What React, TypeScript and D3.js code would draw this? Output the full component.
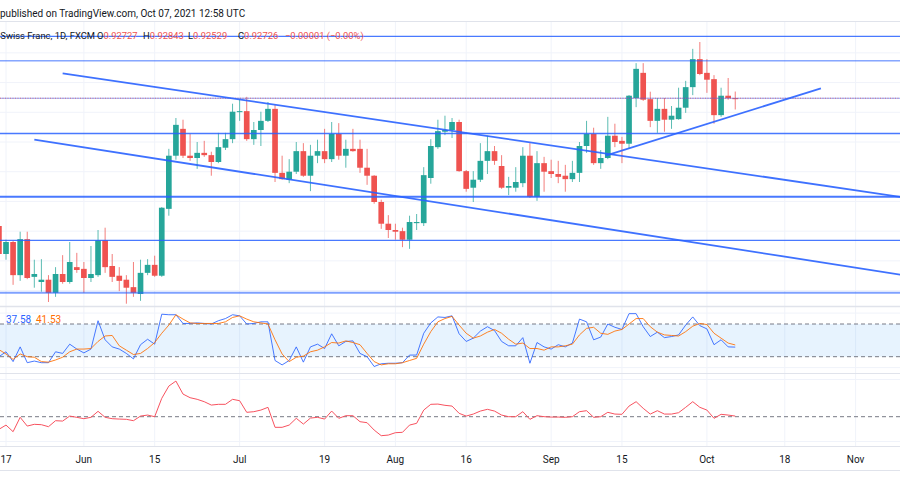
import React from 'react'
import * as d3 from 'd3'

// trading-day index: 0 = Mon May 17 2021; the first (cut) candle is Fri May 14
const firstDay = -1

const open = [
  0.9049, 0.9, 0.9021, 0.8963, 0.9026, 0.896, 0.8951, 0.8955, 0.8932, 0.8965,
  0.8951, 0.8977, 0.8974, 0.8958, 0.8963, 0.9024, 0.8979, 0.8962, 0.8955, 0.8942,
  0.893, 0.8967, 0.8981, 0.8962, 0.9079, 0.9172, 0.9219, 0.9172, 0.9168, 0.9177,
  0.9173, 0.9161, 0.9186, 0.9201, 0.9249, 0.925, 0.9201, 0.9217, 0.9233, 0.9254,
  0.9142, 0.913, 0.9144, 0.918, 0.9137, 0.9172, 0.918, 0.9166, 0.921, 0.9172,
  0.9184, 0.9184, 0.9151, 0.9137, 0.9091, 0.9053, 0.9042, 0.904, 0.9025, 0.9054,
  0.9054, 0.9133, 0.9187, 0.9214, 0.9217, 0.9231, 0.9145, 0.9116, 0.913, 0.9163,
  0.918, 0.9154, 0.9116, 0.9116, 0.9124, 0.9172, 0.91, 0.9159, 0.9145, 0.914,
  0.9137, 0.9131, 0.9142, 0.9189, 0.921, 0.9159, 0.9168, 0.9207, 0.9198, 0.9193,
  0.9273, 0.9317, 0.9271, 0.9233, 0.9254, 0.9235, 0.9236, 0.9256, 0.9292, 0.9341,
  0.9317, 0.9306, 0.9243, 0.9277, 0.92727,
]
const high = [
  0.9053, 0.9025, 0.9023, 0.9039, 0.9039, 0.899, 0.8991, 0.8963, 0.8977, 0.8998,
  0.9021, 0.9002, 0.8986, 0.9014, 0.9042, 0.9046, 0.9, 0.8977, 0.8963, 0.8986,
  0.899, 0.8991, 0.8997, 0.9082, 0.9184, 0.9238, 0.9235, 0.921, 0.9196, 0.9198,
  0.9179, 0.9212, 0.9212, 0.9263, 0.9271, 0.9275, 0.9231, 0.9249, 0.9266, 0.9261,
  0.9172, 0.9166, 0.9196, 0.9194, 0.9191, 0.92, 0.9219, 0.9231, 0.9229, 0.92,
  0.9219, 0.92, 0.9184, 0.9138, 0.9095, 0.9068, 0.9053, 0.9046, 0.9067, 0.907,
  0.9152, 0.9201, 0.9235, 0.9242, 0.9238, 0.9235, 0.9147, 0.9145, 0.9194, 0.9207,
  0.9189, 0.9173, 0.9135, 0.9152, 0.9187, 0.9194, 0.918, 0.917, 0.9165, 0.9163,
  0.9156, 0.9163, 0.9196, 0.9233, 0.9221, 0.9182, 0.924, 0.9228, 0.9205, 0.9278,
  0.9334, 0.9334, 0.9284, 0.9273, 0.9273, 0.9259, 0.9291, 0.9303, 0.9359, 0.9371,
  0.9341, 0.9313, 0.9291, 0.9308, 0.92843,
]
const low = [
  0.8997, 0.899, 0.8946, 0.8953, 0.8956, 0.8941, 0.8934, 0.8916, 0.8925, 0.8948,
  0.8948, 0.8967, 0.8932, 0.8951, 0.896, 0.8967, 0.8951, 0.8935, 0.8913, 0.8925,
  0.8918, 0.8963, 0.896, 0.896, 0.9067, 0.9165, 0.9168, 0.9163, 0.9149, 0.917,
  0.9137, 0.9159, 0.9182, 0.9194, 0.9233, 0.9198, 0.9191, 0.9189, 0.9231, 0.9126,
  0.913, 0.9124, 0.914, 0.9135, 0.911, 0.9159, 0.9159, 0.9161, 0.9165, 0.9151,
  0.9179, 0.9142, 0.9121, 0.9088, 0.9044, 0.9028, 0.9025, 0.9012, 0.9009, 0.9042,
  0.9049, 0.9123, 0.9184, 0.9208, 0.9203, 0.9144, 0.9109, 0.9091, 0.9126, 0.914,
  0.9156, 0.9114, 0.9103, 0.9109, 0.9117, 0.9098, 0.9093, 0.9109, 0.9133, 0.9124,
  0.9109, 0.9126, 0.9126, 0.9177, 0.9156, 0.9149, 0.9166, 0.9187, 0.9159, 0.9184,
  0.9257, 0.9268, 0.9222, 0.9212, 0.9214, 0.9219, 0.9235, 0.9247, 0.9278, 0.9313,
  0.9282, 0.9228, 0.924, 0.927, 0.92529,
]
const close = [
  0.9, 0.9021, 0.8963, 0.9026, 0.8958, 0.8965, 0.8955, 0.8932, 0.8965, 0.8951,
  0.8986, 0.8972, 0.8958, 0.8965, 0.9024, 0.8977, 0.896, 0.8953, 0.8941, 0.8932,
  0.8967, 0.8981, 0.8962, 0.9081, 0.9172, 0.9226, 0.9172, 0.9168, 0.9177, 0.9173,
  0.9161, 0.9187, 0.9201, 0.9249, 0.925, 0.9201, 0.9217, 0.9233, 0.9254, 0.9142,
  0.9131, 0.9144, 0.918, 0.9137, 0.9172, 0.918, 0.9166, 0.921, 0.9172, 0.9184,
  0.918, 0.9151, 0.9137, 0.9091, 0.9053, 0.9042, 0.9039, 0.9025, 0.9056, 0.9056,
  0.9138, 0.9189, 0.9215, 0.9217, 0.9231, 0.9145, 0.9114, 0.913, 0.9163, 0.918,
  0.9163, 0.9116, 0.9119, 0.9126, 0.9172, 0.91, 0.9159, 0.9144, 0.914, 0.9135,
  0.9131, 0.9142, 0.9189, 0.921, 0.9159, 0.9168, 0.9207, 0.9196, 0.9193, 0.9277,
  0.9324, 0.927, 0.9233, 0.9254, 0.9235, 0.9242, 0.9256, 0.9292, 0.9341, 0.9315,
  0.9305, 0.9243, 0.9277, 0.92727, 0.92726,
]

// stochastic %K / %D
const stochK = [
  20, 29, 11, 38, 9, 12, 9, 9, 29, 26,
  43, 34, 27, 34, 86, 51, 38, 34, 26, 16,
  42, 52, 43, 98, 97, 97, 81, 81, 82, 81,
  80, 86, 90, 97, 95, 80, 81, 84, 84, 13,
  5, 13, 38, 10, 38, 43, 35, 62, 40, 48,
  49, 26, 20, 2, 7, 8, 8, 9, 23, 23,
  63, 82, 93, 92, 95, 62, 48, 54, 67, 75,
  68, 48, 40, 40, 55, 8, 46, 38, 34, 42,
  38, 45, 89, 84, 51, 56, 80, 74, 70, 99,
  99, 75, 57, 65, 55, 57, 60, 78, 93, 77,
  71, 42, 51, 38, 37.58,
]
const stochD = [
  33, 25, 15, 25, 20, 19, 11, 10, 14, 19,
  29, 34, 34, 35, 48, 58, 59, 40, 32, 24,
  26, 35, 46, 63, 78, 97, 89, 82, 81, 81,
  81, 81, 84, 92, 95, 89, 84, 82, 80, 51,
  25, 11, 19, 21, 29, 32, 38, 46, 45, 49,
  46, 42, 26, 11, 5, 7, 7, 9, 13, 17,
  43, 66, 84, 90, 94, 78, 63, 54, 58, 65,
  70, 63, 52, 43, 45, 35, 35, 32, 38, 38,
  40, 43, 60, 72, 74, 63, 61, 67, 70, 80,
  90, 90, 75, 65, 60, 59, 58, 66, 76, 81,
  79, 63, 54, 45, 41.53,
]
// lower oscillator (red line)
const osc = [
  39.9, 43.3, 38.0, 49.5, 42.5, 43.9, 43.6, 42.0, 46.8, 46.5,
  50.5, 49.5, 48.4, 49.5, 54.3, 49.5, 48.4, 48.1, 47.9, 46.8,
  50.5, 51.3, 50.0, 64.7, 74.5, 78.5, 68.1, 65.2, 63.9, 62.0,
  59.3, 59.9, 59.9, 63.9, 62.8, 53.5, 54.0, 55.3, 57.5, 41.5,
  41.5, 43.3, 48.7, 44.1, 48.9, 49.5, 48.1, 54.5, 48.7, 50.8,
  50.8, 46.0, 45.2, 39.3, 34.8, 35.3, 37.2, 37.5, 43.3, 44.7,
  55.3, 59.9, 60.1, 59.1, 58.5, 52.7, 50.5, 52.1, 54.5, 55.9,
  54.5, 51.3, 50.0, 50.0, 54.0, 47.9, 50.8, 50.0, 49.7, 49.7,
  49.5, 50.0, 54.0, 54.8, 49.5, 50.0, 53.5, 52.1, 51.9, 58.5,
  62.0, 56.7, 52.1, 54.8, 52.1, 52.1, 53.2, 57.5, 62.0, 57.5,
  55.3, 48.7, 51.9, 51.3, 50.5,
]

const tickDays = [0, 11, 21, 33, 45, 55, 65, 77, 87, 99, 110, 120]
const tickLabels = ['17', 'Jun', '15', 'Jul', '19', 'Aug', '16', 'Sep', '15', 'Oct', '18', 'Nov']
const gridPrices = [0.9352, 0.93, 0.9248, 0.9196, 0.9144, 0.9092, 0.904, 0.8988, 0.8936]
const levelPrices = [0.9381, 0.9338, 0.9211, 0.91, 0.9024, 0.8932]
// [day, price, day, price]
const trendLines = [
  [8, 0.9316, 126.3, 0.91],
  [4, 0.92, 126.3, 0.8964],
  [84.7, 0.9172, 115.1, 0.929],
]
const stochBands = [80, 20]
const oscMid = 50

const levelWidths = [1.2, 1, 1.5, 2, 1.2, 2]
const font = 'Roboto, "Liberation Sans", sans-serif'
const up = '#26a69a'
const down = '#ef5350'
const blue = '#2962ff'

export default function App() {
  const W = 900
  const H = 500
  const x = d3.scaleLinear().domain([0, 120]).range([6, 855.6])
  const y = d3.scaleLinear().domain([0.9273, 0.9098]).range([98, 198])
  const sy = d3.scaleLinear().domain([0, 100]).range([367.6, 313.1])
  const oy = d3.scaleLinear().domain([0, 100]).range([479.2, 354.2])
  const days = open.map((_, k) => firstDay + k)
  const bw = (x(1) - x(0)) * 0.8
  const last = open.length - 1

  const lineOf = (scale: d3.ScaleLinear<number, number>) =>
    d3.line<number>().x((_, k) => x(days[k])).y((v) => scale(v))

  const chg = close[last] - close[last - 1]
  const minus = (s: string) => s.replace('-', '\u2212')
  const chgText = `${minus(chg.toFixed(5))} (${minus(((chg / close[last - 1]) * 100).toFixed(2))}%)`

  const lastPriceY = y(close[last])

  return (
    <svg width={W} height={H} style={{ position: 'fixed', left: 0, top: 0, background: '#fff' }} fontFamily={font}>
      <defs>
        <clipPath id="main"><rect x={0} y={22} width={W} height={284.5} /></clipPath>
        <clipPath id="stoch"><rect x={0} y={307} width={W} height={66} /></clipPath>
        <clipPath id="osc"><rect x={0} y={374} width={W} height={72.5} /></clipPath>
      </defs>
      <rect width={W} height={H} fill="#fff" />

      {/* vertical grid */}
      {tickDays.map((d) => (
        <line key={d} x1={x(d)} x2={x(d)} y1={22} y2={446.5} stroke="#f0f3fa" />
      ))}
      {/* horizontal grid */}
      {gridPrices.map((p) => (
        <line key={p} x1={0} x2={W} y1={y(p)} y2={y(p)} stroke="#f0f3fa" />
      ))}
      {[0, 100].map((v) => (
        <line key={v} x1={0} x2={W} y1={sy(v)} y2={sy(v)} stroke="#f0f3fa" />
      ))}
      {[379.5, 441.5].map((v) => (
        <line key={v} x1={0} x2={W} y1={v} y2={v} stroke="#f0f3fa" />
      ))}

      {/* pane borders */}
      {[21.5, 306.5, 373.5, 446.5, 470.5].map((v) => (
        <line key={v} x1={0} x2={W} y1={v} y2={v} stroke="#e0e3eb" strokeWidth={v === 306.5 ? 1.5 : 1} />
      ))}

      {/* candles */}
      <g clipPath="url(#main)">
        {days.map((d, k) => {
          const col = close[k] >= open[k] ? up : down
          const cx = x(d)
          const top = y(Math.max(open[k], close[k]))
          const bot = y(Math.min(open[k], close[k]))
          return (
            <g key={d}>
              <line x1={cx} x2={cx} y1={y(high[k])} y2={y(low[k])} stroke={col} strokeOpacity={0.75} />
              <rect x={cx - bw / 2} y={top} width={bw} height={Math.max(1, bot - top)} fill={col} />
            </g>
          )
        })}

        {/* drawings */}
        {levelPrices.map((p, k) => (
          <line key={p} x1={0} x2={W} y1={y(p)} y2={y(p)} stroke={blue}
            strokeWidth={levelWidths[k]} strokeOpacity={k === 5 ? 0.6 : 0.85} />
        ))}
        <line x1={0} x2={W} y1={lastPriceY} y2={lastPriceY} stroke={blue} strokeOpacity={0.55} strokeWidth={1.2} />
        <line x1={0} x2={W} y1={lastPriceY} y2={lastPriceY} stroke={down} strokeOpacity={0.75} strokeDasharray="1 1.5" />
        {trendLines.map((t, k) => (
          <line key={k} x1={x(t[0])} y1={y(t[1])} x2={x(t[2])} y2={y(t[3])} stroke={blue} strokeWidth={1.8} strokeOpacity={0.9} />
        ))}
      </g>

      {/* stochastic pane */}
      <g clipPath="url(#stoch)">
        <rect x={0} y={sy(stochBands[0])} width={W} height={sy(stochBands[1]) - sy(stochBands[0])} fill="rgba(33,150,243,0.11)" />
        {stochBands.map((b) => (
          <line key={b} x1={0} x2={W} y1={sy(b)} y2={sy(b)} stroke="#787b86" strokeDasharray="4 3" />
        ))}
        <path d={lineOf(sy)(stochK) || ''} fill="none" stroke={blue} strokeWidth={1} strokeOpacity={0.85} />
        <path d={lineOf(sy)(stochD) || ''} fill="none" stroke="#ff6d00" strokeWidth={1} strokeOpacity={0.85} />
      </g>
      <text y={322.5} fontSize={10}>
        <tspan x={6} fill={blue}>{stochK[last].toFixed(2)}</tspan>
        <tspan x={36} fill="#ff6d00">{stochD[last].toFixed(2)}</tspan>
      </text>

      {/* lower oscillator */}
      <g clipPath="url(#osc)">
        <line x1={0} x2={W} y1={oy(oscMid)} y2={oy(oscMid)} stroke="#787b86" strokeDasharray="4 3" />
        <path d={lineOf(oy)(osc) || ''} fill="none" stroke="#f7525f" strokeWidth={1} />
      </g>

      {/* time axis */}
      {tickDays.map((d, k) => (
        <text key={d} x={x(d)} y={462.5} fontSize={10} textAnchor="middle" fill="#131722">{tickLabels[k]}</text>
      ))}

      {/* header + legend */}
      <text x={0} y={16.5} fontSize={10} fill="#131722">published on TradingView.com, Oct 07, 2021 12:58 UTC</text>
      <text y={38.5} fontSize={9.4} fill="#131722">
        <tspan x={95} textAnchor="end">U.S. Dollar / Swiss Franc, 1D, FXCM</tspan>
      </text>
      <text y={38.5} fontSize={9.4} fill="#131722">
        <tspan x={97}>O</tspan><tspan fill={down}>{open[last].toFixed(5)}</tspan>
        <tspan x={143}>H</tspan><tspan fill={down}>{high[last].toFixed(5)}</tspan>
        <tspan x={188}>L</tspan><tspan fill={down}>{low[last].toFixed(5)}</tspan>
        <tspan x={238}>C</tspan><tspan fill={down}>{close[last].toFixed(5)}</tspan>
        <tspan x={285} fill={down}>{chgText}</tspan>
      </text>
    </svg>
  )
}
